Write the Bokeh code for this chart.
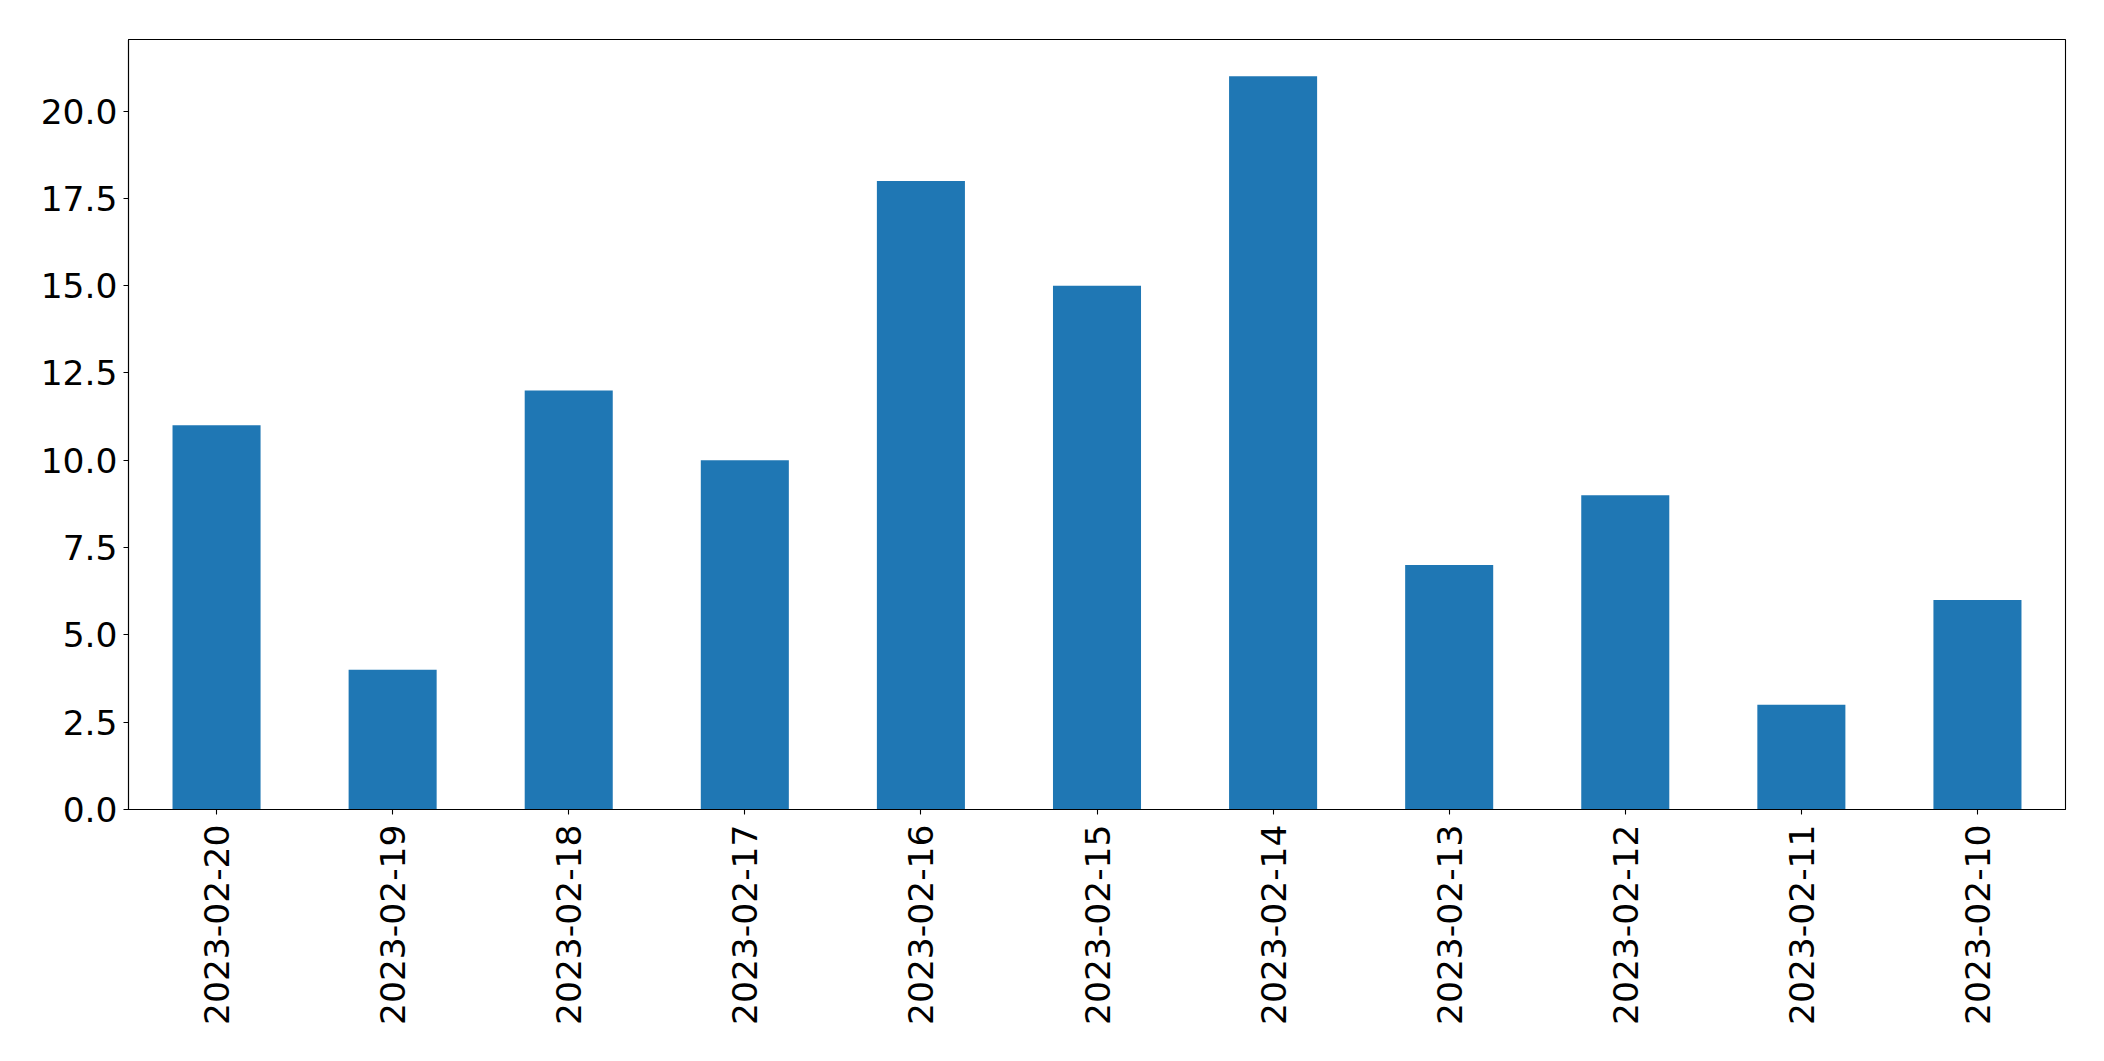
import math
from bokeh.plotting import figure
from bokeh.models import Range1d, FactorRange, FixedTicker, NumeralTickFormatter, ColumnDataSource
from bokeh.embed import file_html
from bokeh.resources import INLINE

dates = ["2023-02-20", "2023-02-19", "2023-02-18", "2023-02-17", "2023-02-16", "2023-02-15",
         "2023-02-14", "2023-02-13", "2023-02-12", "2023-02-11", "2023-02-10"]
counts = [11, 4, 12, 10, 18, 15, 21, 7, 9, 3, 6]
y_ticks = [0.0, 2.5, 5.0, 7.5, 10.0, 12.5, 15.0, 17.5, 20.0]

src = ColumnDataSource(dict(date=dates, count=counts))

p = figure(width=2088, height=1045, output_backend="svg", toolbar_location=None,
           x_range=FactorRange(factors=dates, range_padding=0),
           y_range=Range1d(0, max(counts) * 1.05),
           min_border_left=128, min_border_right=23, min_border_top=39, min_border_bottom=236)

p.vbar(x="date", top="count", width=0.5, source=src, fill_color="#1f77b4", line_color=None)

p.xgrid.visible = False
p.ygrid.visible = False
p.outline_line_color = "black"
p.outline_line_width = 1.1
p.outline_line_alpha = 1.0
p.background_fill_color = "white"
p.border_fill_color = "white"

for ax in (p.xaxis, p.yaxis):
    ax.axis_line_color = "black"
    ax.axis_line_width = 1.1
    ax.major_tick_line_color = "black"
    ax.major_tick_line_width = 1.1
    ax.major_tick_in = 0
    ax.major_tick_out = 5
    ax.minor_tick_line_color = None
    ax.major_label_text_font = "DejaVu Sans"
    ax.major_label_text_font_size = "34.5px"
    ax.major_label_text_color = "black"

p.yaxis.ticker = FixedTicker(ticks=y_ticks)
p.yaxis.formatter = NumeralTickFormatter(format="0.0")
p.yaxis.major_label_standoff = 6
p.xaxis.major_label_orientation = math.pi / 2
p.xaxis.major_label_standoff = 10

open("out.html", "w").write(file_html(p, INLINE))
